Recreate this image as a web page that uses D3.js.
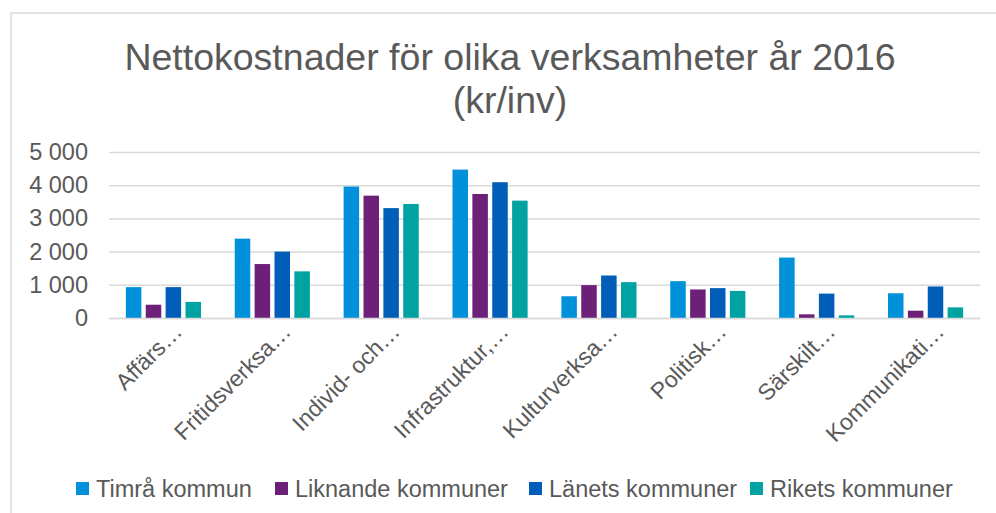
<!DOCTYPE html>
<html lang="sv">
  <head>
    <meta charset="UTF-8" />
    <title>Nettokostnader</title>
    <script src="https://cdn.jsdelivr.net/npm/d3@7"></script>
  </head>
  <body>
    <svg></svg>
    <style>
      body { margin: 0; background: #fff; }
      svg { width: 996px; height: 513px; display: block; font-family: "Liberation Sans", Arial, sans-serif; }
    </style>
    <script>
      const categories = ["Affärs…", "Fritidsverksa…", "Individ- och…", "Infrastruktur,…",
        "Kulturverksa…", "Politisk…", "Särskilt…", "Kommunikati…"];
      const seriesNames = ["Timrå kommun", "Liknande kommuner", "Länets kommuner", "Rikets kommuner"];
      const timra     = [930, 2390, 3960, 4470, 655, 1110, 1820, 745];
      const liknande  = [400, 1625, 3685, 3735, 990, 860, 110, 220];
      const lanets    = [930, 2000, 3310, 4090, 1280, 900, 735, 950];
      const rikets    = [485, 1405, 3435, 3535, 1080, 815, 80, 320];
      const yTicks = [0, 1000, 2000, 3000, 4000, 5000];
      const colors = ["#0091DA", "#6D2077", "#005EB8", "#00A3A1"];

      const values = [timra, liknande, lanets, rikets];
      const svg = d3.select("svg");
      const margin = { left: 109, right: 16, top: 152, bottom: 195 };
      const width = 996, height = 513;
      const textColor = "#595959";

      // frame of the chart area (runs past right/bottom edge)
      svg.append("rect")
        .attr("x", 11).attr("y", 13)
        .attr("width", 1000).attr("height", 520)
        .attr("fill", "none").attr("stroke", "#d9d9d9").attr("stroke-width", 1.5);

      const title = svg.append("text")
        .attr("text-anchor", "middle")
        .attr("fill", textColor)
        .attr("font-size", 37.5);
      title.append("tspan").attr("x", 510).attr("y", 70).text("Nettokostnader för olika verksamheter år 2016");
      title.append("tspan").attr("x", 510).attr("y", 113).text("(kr/inv)");

      const x = d3.scaleBand()
        .domain(categories)
        .range([margin.left, width - margin.right]);
      const inner = d3.scaleBand()
        .domain(d3.range(seriesNames.length))
        .range([0, x.bandwidth() * 0.69])
        .paddingInner(0.22);
      const offset = (x.bandwidth() - x.bandwidth() * 0.69) / 2;
      const y = d3.scaleLinear().domain([0, 5000]).range([height - margin.bottom, margin.top]);

      // gridlines
      svg.append("g")
        .attr("transform", `translate(${margin.left},0)`)
        .call(d3.axisLeft(y).tickValues(yTicks).tickSize(-(width - margin.left - margin.right)).tickFormat(""))
        .call(g => g.select(".domain").remove())
        .call(g => g.selectAll("line").attr("stroke", "#d9d9d9").attr("stroke-width", 1.5));

      // y tick labels
      svg.append("g")
        .attr("transform", `translate(${margin.left},0)`)
        .call(d3.axisLeft(y).tickValues(yTicks).tickSize(0).tickPadding(21)
          .tickFormat(d => d3.format(",")(d).replace(",", " ")))
        .call(g => g.select(".domain").remove())
        .call(g => g.selectAll("text").attr("fill", textColor).attr("font-size", 23.5)
          .attr("font-family", "Liberation Sans, Arial, sans-serif"));

      // bars
      const groups = svg.append("g").selectAll("g")
        .data(categories)
        .join("g")
        .attr("transform", d => `translate(${x(d) + offset},0)`);
      groups.selectAll("rect")
        .data((c, ci) => values.map((s, si) => ({ si, v: s[ci] })))
        .join("rect")
        .attr("x", d => inner(d.si))
        .attr("width", inner.bandwidth())
        .attr("y", d => y(d.v))
        .attr("height", d => y(0) - y(d.v))
        .attr("fill", d => colors[d.si]);

      // x axis line
      svg.append("g")
        .attr("transform", `translate(0,${y(0)})`)
        .call(d3.axisBottom(x).tickSize(0).tickFormat(""))
        .call(g => g.select(".domain").attr("stroke", "#d9d9d9").attr("stroke-width", 1.5));

      // category labels rotated
      svg.append("g").selectAll("text")
        .data(categories)
        .join("text")
        .attr("transform", d => `translate(${x(d) + x.bandwidth() / 2 + 20},${y(0) + 15}) rotate(-45)`)
        .attr("text-anchor", "end")
        .attr("fill", textColor)
        .attr("font-size", 23)
        .text(d => d);

      // legend
      const legendX = [76, 275, 529, 750];
      const legend = svg.append("g").selectAll("g")
        .data(seriesNames)
        .join("g")
        .attr("transform", (d, i) => `translate(${legendX[i]},488.5)`);
      legend.append("rect")
        .attr("x", 0).attr("y", -6.5).attr("width", 13).attr("height", 13)
        .attr("fill", (d, i) => colors[i]);
      legend.append("text")
        .attr("x", 20).attr("y", 8)
        .attr("fill", textColor)
        .attr("font-size", 23.5)
        .text(d => d);
    </script>
  </body>
</html>
